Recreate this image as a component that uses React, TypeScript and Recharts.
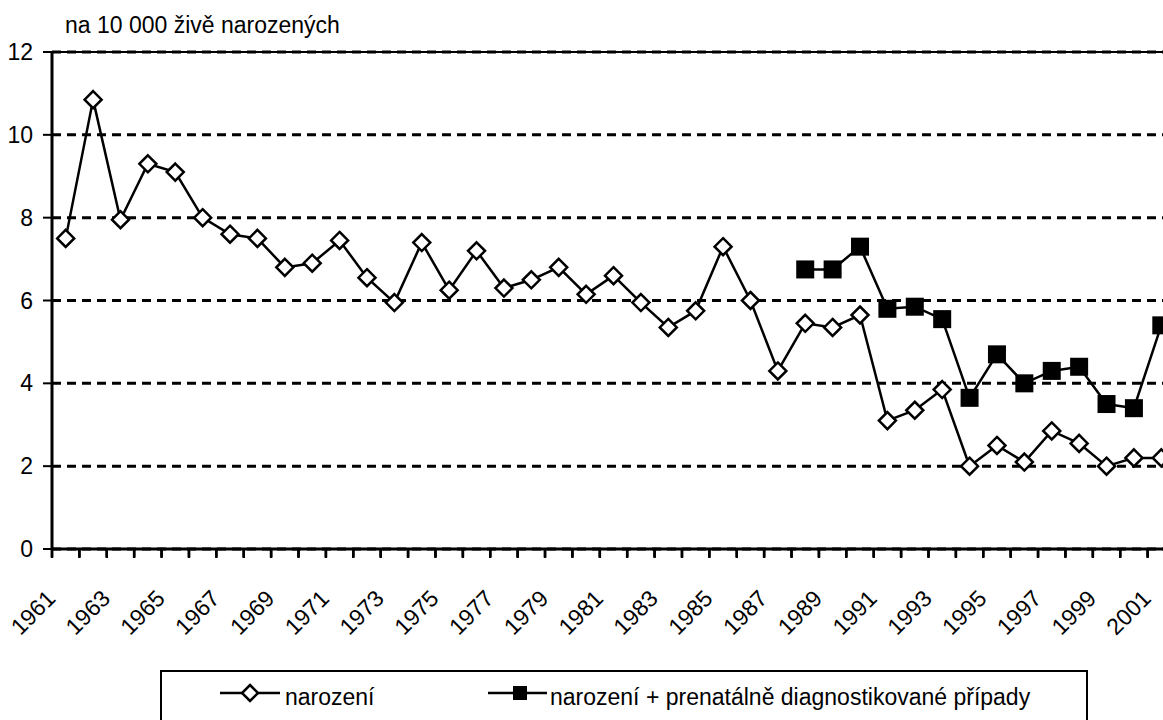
import React from "react";
import {
  LineChart,
  Line,
  XAxis,
  YAxis,
  CartesianGrid,
  Legend,
  ReferenceLine,
} from "recharts";

const years = [
  1961, 1962, 1963, 1964, 1965, 1966, 1967, 1968, 1969, 1970, 1971, 1972, 1973, 1974,
  1975, 1976, 1977, 1978, 1979, 1980, 1981, 1982, 1983, 1984, 1985, 1986, 1987, 1988,
  1989, 1990, 1991, 1992, 1993, 1994, 1995, 1996, 1997, 1998, 1999, 2000, 2001,
];

const narozeni = [
  7.5, 10.85, 7.95, 9.3, 9.1, 8.0, 7.6, 7.5, 6.8, 6.9, 7.45, 6.55, 5.95, 7.4,
  6.25, 7.2, 6.3, 6.5, 6.8, 6.15, 6.6, 5.95, 5.35, 5.75, 7.3, 6.0, 4.3, 5.45,
  5.35, 5.65, 3.1, 3.35, 3.85, 2.0, 2.5, 2.1, 2.85, 2.55, 2.0, 2.2, 2.2,
];

const sPrenatalni = [
  null, null, null, null, null, null, null, null, null, null, null, null, null, null,
  null, null, null, null, null, null, null, null, null, null, null, null, null, 6.75,
  6.75, 7.3, 5.8, 5.85, 5.55, 3.65, 4.7, 4.0, 4.3, 4.4, 3.5, 3.4, 5.4,
];

const yTicks = [0, 2, 4, 6, 8, 10, 12];
const labelYears = years.filter((y) => y % 2 === 1);
const bandEdges = [...years.map((y) => y - 0.5), years[years.length - 1] + 0.5];

const seriesNames = ["narození", "narození + prenatálně diagnostikované případy"];
const yTitle = "na 10 000 živě narozených";

const chartData = years.map((year, i) => ({
  year,
  narozeni: narozeni[i],
  prenatal: sPrenatalni[i],
}));

const FONT = "'Liberation Sans', Arial, sans-serif";

const Diamond = (props: any) => {
  const { cx, cy } = props;
  if (cx == null || cy == null) return null;
  const r = 8.5;
  return (
    <polygon
      points={`${cx},${cy - r} ${cx + r},${cy} ${cx},${cy + r} ${cx - r},${cy}`}
      fill="#fff"
      stroke="#000"
      strokeWidth={2.5}
    />
  );
};

const Square = (props: any) => {
  const { cx, cy, value } = props;
  if (cx == null || cy == null || value == null) return null;
  const h = 9;
  return <rect x={cx - h} y={cy - h} width={h * 2} height={h * 2} fill="#000" />;
};

// tick mark at each category boundary (tick y is tickSize + tickMargin below the axis)
const EdgeTick = (props: any) => {
  const { x, y } = props;
  return <line x1={x} x2={x} y1={y - 11} y2={y - 1} stroke="#000" strokeWidth={2.5} />;
};

const YearTick = (props: any) => {
  const { x, y, payload } = props;
  return (
    <text
      x={0}
      y={0}
      transform={`translate(${x - 9},${y + 33}) rotate(-45)`}
      textAnchor="end"
      fontSize={23}
      fontFamily={FONT}
      fill="#000"
    >
      {payload.value}
    </text>
  );
};

const LegendBox = () => (
  <div
    style={{
      boxSizing: "border-box",
      width: 928,
      height: 70,
      border: "2px solid #000",
      position: "relative",
      fontFamily: FONT,
      fontSize: 23,
      color: "#000",
      background: "#fff",
    }}
  >
    <svg width={420} height={40} style={{ position: "absolute", left: 0, top: 0 }}>
      <line x1={58} y1={21} x2={118} y2={21} stroke="#000" strokeWidth={2.5} />
      <polygon points="88,13 96,21 88,29 80,21" fill="#fff" stroke="#000" strokeWidth={2.5} />
      <line x1={326} y1={21} x2={385} y2={21} stroke="#000" strokeWidth={2.5} />
      <rect x={351} y={14} width={14} height={14} fill="#000" />
    </svg>
    <span style={{ position: "absolute", left: 123, top: 12, whiteSpace: "nowrap" }}>
      {seriesNames[0]}
    </span>
    <span style={{ position: "absolute", left: 388, top: 12, whiteSpace: "nowrap" }}>
      {seriesNames[1]}
    </span>
  </div>
);

const App: React.FC = () => {
  return (
    <div
      style={{
        position: "absolute",
        left: 0,
        top: 0,
        width: 1163,
        height: 720,
        overflow: "hidden",
        background: "#fff",
      }}
    >
      <div
        style={{
          position: "absolute",
          left: 65,
          top: 12,
          fontFamily: FONT,
          fontSize: 23,
          color: "#000",
          zIndex: 2,
          whiteSpace: "nowrap",
        }}
      >
        {yTitle}
      </div>
      <LineChart
        width={1200}
        height={720}
        data={chartData}
        margin={{ top: 52, right: 25, left: 0, bottom: 101 }}
      >
        <CartesianGrid
          horizontal
          vertical={false}
          stroke="#000"
          strokeWidth={3}
          strokeDasharray="9 6"
        />
        <ReferenceLine y={12} stroke="#000" strokeWidth={2} />
        <YAxis
          type="number"
          domain={[0, 12]}
          ticks={yTicks}
          width={52}
          axisLine={{ stroke: "#000", strokeWidth: 3 }}
          tickLine={{ stroke: "#000", strokeWidth: 2 }}
          tickSize={9}
          tickMargin={10}
          tick={{ fill: "#000", fontSize: 23, fontFamily: FONT }}
        />
        <XAxis
          xAxisId="edges"
          type="number"
          dataKey="year"
          domain={[bandEdges[0], bandEdges[bandEdges.length - 1]]}
          ticks={bandEdges}
          interval={0}
          height={10}
          axisLine={{ stroke: "#000", strokeWidth: 3 }}
          tickLine={{ stroke: "#000", strokeWidth: 2.5 }}
          tickSize={8}
          tickMargin={2}
          tick={<EdgeTick />}
        />
        <XAxis
          xAxisId="labels"
          type="number"
          dataKey="year"
          domain={[bandEdges[0], bandEdges[bandEdges.length - 1]]}
          ticks={labelYears}
          interval={0}
          height={60}
          axisLine={false}
          tickLine={false}
          tick={<YearTick />}
        />
        <Legend
          layout="horizontal"
          verticalAlign="middle"
          align="center"
          wrapperStyle={{ left: 160, top: 670, width: 928, height: 70 }}
          content={() => <LegendBox />}
        />
        <Line
          xAxisId="edges"
          dataKey="narozeni"
          name={seriesNames[0]}
          stroke="#000"
          strokeWidth={2.5}
          dot={<Diamond />}
          activeDot={false}
          isAnimationActive={false}
        />
        <Line
          xAxisId="edges"
          dataKey="prenatal"
          name={seriesNames[1]}
          stroke="#000"
          strokeWidth={2.5}
          dot={<Square />}
          activeDot={false}
          connectNulls={false}
          isAnimationActive={false}
        />
      </LineChart>
    </div>
  );
};

export default App;
